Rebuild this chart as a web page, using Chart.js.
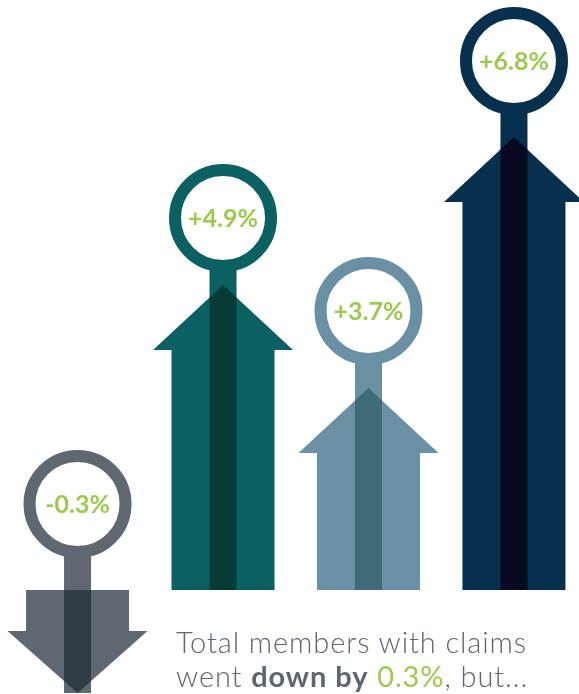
<!DOCTYPE html>
<html>
<head>
<meta charset="utf-8">
<script src="https://cdn.jsdelivr.net/npm/chart.js@4.4.1/dist/chart.umd.min.js"></script>
<style>
  body { margin: 0; background: #fff; }
  #wrap { position: relative; width: 579px; height: 694px; overflow: hidden; }
  #caption {
    position: absolute; left: 176px; top: 625px;
    font-family: Lato, sans-serif; font-weight: 300; font-size: 29px; line-height: 34px;
    letter-spacing: 0.9px; color: #5d6770; white-space: nowrap;
  }
  #caption b { font-weight: 700; }
  #caption .green { color: #9dc94f; font-weight: 400; }
</style>
</head>
<body>
<div id="wrap">
  <canvas id="arrowChart" width="579" height="694"></canvas>
  <div id="caption">Total members with claims<br>went <b>down by</b> <span class="green">0.3%</span>, but...</div>
</div>
<script>
// values shown in the rings
let changes = [-0.3, 4.9, 3.7, 6.8];
// how far each arrow reaches from the baseline, as drawn (not to scale with changes)
let arrowLength = [-1.03, 3.05, 2.02, 4.53];
// height of each ring centre
let ringLevel = [0.86, 3.72, 2.79, 5.29];
let positions = [0, 1, 2, 3];

let arrowColors = ['#5f6870', '#0b6062', '#6a91a3', '#06304d'];
let stripeColors = ['#2f3c44', '#073b36', '#3d6b78', '#080a22'];
let labelColor = '#9dc94f';
let stemWidth = 27;

function fmt(v) {
  return (v > 0 ? '+' : '') + v.toFixed(1) + '%';
}

const arrowPlugin = {
  id: 'arrows',
  beforeDatasetDraw(chart, args) {
    if (args.index !== 1) return;
    const ctx = chart.ctx;
    const rings = chart.getDatasetMeta(0).data;
    args.meta.data.forEach((bar, i) => {
      const {x, y, base, width} = bar.getProps(['x', 'y', 'base', 'width'], true);
      const half = width / 2;
      const wing = half + 18.5;
      const up = y < base;
      const neck = up ? y + 65 : y - 62;
      const ringY = rings[i].y;
      const stemEnd = up ? base : y;

      ctx.save();
      ctx.fillStyle = arrowColors[i];
      ctx.fillRect(x - stemWidth / 2, ringY, stemWidth, stemEnd - ringY);

      ctx.beginPath();
      ctx.moveTo(x - half, base);
      ctx.lineTo(x - half, neck);
      ctx.lineTo(x - wing, neck);
      ctx.lineTo(x, y);
      ctx.lineTo(x + wing, neck);
      ctx.lineTo(x + half, neck);
      ctx.lineTo(x + half, base);
      ctx.closePath();
      ctx.fill();
      ctx.clip();
      ctx.fillStyle = stripeColors[i];
      ctx.fillRect(x - stemWidth / 2, Math.min(y, base), stemWidth, Math.abs(base - y));
      ctx.restore();
    });
    return false;
  },
  afterDatasetsDraw(chart) {
    const ctx = chart.ctx;
    ctx.save();
    ctx.font = 'bold 25px Lato';
    ctx.fillStyle = labelColor;
    ctx.textAlign = 'center';
    ctx.textBaseline = 'middle';
    chart.getDatasetMeta(0).data.forEach((pt, i) => {
      ctx.fillText(fmt(changes[i]), pt.x, pt.y + 1);
    });
    ctx.restore();
  }
};

let ringData = positions.map((p, i) => ({x: p, y: ringLevel[i]}));
let arrowData = positions.map((p, i) => ({x: p, y: arrowLength[i]}));

new Chart(document.getElementById('arrowChart'), {
  type: 'bar',
  data: {
    datasets: [
      {
        type: 'line',
        label: 'rings',
        data: ringData,
        showLine: false,
        order: 0,
        clip: false,
        pointRadius: 48,
        pointHoverRadius: 48,
        pointBorderWidth: 12,
        pointHoverBorderWidth: 12,
        pointBackgroundColor: '#ffffff',
        pointBorderColor: arrowColors
      },
      {
        label: 'change',
        data: arrowData,
        order: 1,
        clip: false,
        barThickness: 103,
        backgroundColor: arrowColors
      }
    ]
  },
  options: {
    responsive: false,
    animation: false,
    events: [],
    layout: { padding: 0, autoPadding: false },
    plugins: { legend: { display: false }, tooltip: { enabled: false } },
    scales: {
      x: { type: 'linear', display: false, offset: false, min: -0.533, max: 3.447 },
      y: { display: false, min: -1.04, max: 5.9 }
    }
  },
  plugins: [arrowPlugin]
});
</script>
</body>
</html>
